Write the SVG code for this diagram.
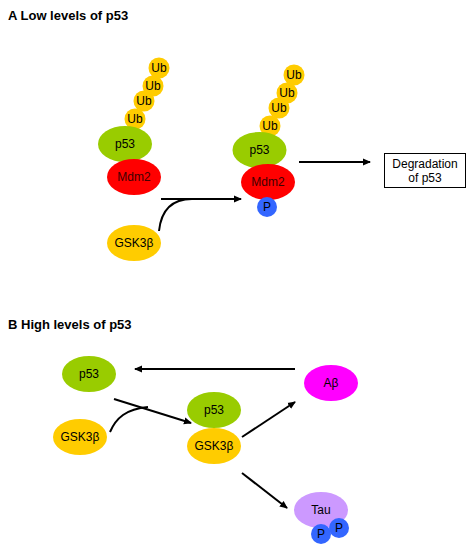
<svg xmlns="http://www.w3.org/2000/svg" width="472" height="550" viewBox="0 0 472 550">
<style>
text{font-family:"Liberation Sans",Arial,sans-serif;font-size:12px;fill:#000;text-anchor:middle}
.title{font-weight:bold;font-size:13px;text-anchor:start}
.green{fill:#99CC00}
.red{fill:#FF0000}
.yel{fill:#FFCC00}
.blue{fill:#3366FF}
.mag{fill:#FF00FF}
.lav{fill:#CC99FF}
.ln{stroke:#000;stroke-width:2;fill:none}
.arr{stroke:#000;stroke-width:2;fill:none;marker-end:url(#ah)}
</style>
<defs>
<marker id="ah" markerWidth="8" markerHeight="8" refX="7" refY="4" orient="auto" markerUnits="userSpaceOnUse">
<path d="M0,0.5 L8,4 L0,7.5 Z" fill="#000"/>
</marker>
</defs>
<rect width="472" height="550" fill="#fff"/>
<text class="title" x="8" y="20">A Low levels of p53</text>
<text class="title" x="8" y="329">B High levels of p53</text>

<g id="ubA1"><circle class="yel" cx="159" cy="68" r="10.5"/><text x="159" y="72">Ub</text></g>
<g id="ubA2"><circle class="yel" cx="153" cy="86" r="10.5"/><text x="153" y="90">Ub</text></g>
<g id="ubA3"><circle class="yel" cx="144" cy="101" r="10.5"/><text x="144" y="105">Ub</text></g>
<g id="ubA4"><circle class="yel" cx="135" cy="119" r="10.5"/><text x="135" y="123">Ub</text></g>
<g id="p53A"><ellipse class="green" cx="125" cy="144" rx="27" ry="18"/><text x="125" y="148">p53</text></g>
<g id="mdm2A"><ellipse class="red" cx="134" cy="177" rx="27" ry="18"/><text x="134" y="181" style="fill:#400000">Mdm2</text></g>
<g id="gskA"><ellipse class="yel" cx="134" cy="243" rx="27" ry="18"/><text x="134" y="247">GSK3β</text></g>

<g id="ubB1"><circle class="yel" cx="294" cy="75" r="10.5"/><text x="294" y="79">Ub</text></g>
<g id="ubB2"><circle class="yel" cx="287" cy="93" r="10.5"/><text x="287" y="97">Ub</text></g>
<g id="ubB3"><circle class="yel" cx="279" cy="108" r="10.5"/><text x="279" y="112">Ub</text></g>
<g id="ubB4"><circle class="yel" cx="270" cy="126" r="10.5"/><text x="270" y="130">Ub</text></g>
<g id="p53B"><ellipse class="green" cx="259.5" cy="150" rx="27" ry="18"/><text x="259.5" y="154">p53</text></g>
<g id="mdm2B"><ellipse class="red" cx="268" cy="182" rx="27" ry="18"/><text x="268" y="186" style="fill:#400000">Mdm2</text></g>
<g id="pB"><circle class="blue" cx="267" cy="207" r="10"/><text x="267" y="211">P</text></g>

<g id="degr"><rect x="384.5" y="153.5" width="81" height="34" fill="#fff" stroke="#000" stroke-width="1"/><text x="425" y="168">Degradation</text><text x="425" y="182">of p53</text></g>

<g id="p53L"><ellipse class="green" cx="89" cy="374" rx="27" ry="18"/><text x="89" y="378">p53</text></g>
<g id="gskL"><ellipse class="yel" cx="80" cy="437" rx="27" ry="18"/><text x="80" y="441">GSK3β</text></g>
<g id="p53M"><ellipse class="green" cx="214" cy="410" rx="27" ry="18"/><text x="214" y="414">p53</text></g>
<g id="gskM"><ellipse class="yel" cx="214" cy="446" rx="27" ry="18"/><text x="214" y="450">GSK3β</text></g>
<g id="abeta"><ellipse class="mag" cx="331" cy="383" rx="27" ry="18"/><text x="331" y="387">Aβ</text></g>
<g id="tau"><ellipse class="lav" cx="321" cy="510" rx="27" ry="18"/><text x="321" y="514">Tau</text></g>
<g id="pT1"><circle class="blue" cx="321" cy="534" r="10"/><text x="321" y="538">P</text></g>
<g id="pT2"><circle class="blue" cx="339" cy="528" r="10"/><text x="339" y="532">P</text></g>

<g id="connectors">
<path class="arr" d="M161,199 L241,199"/>
<path class="ln" d="M159,231 C161,212 170,199 192,199"/>
<path class="arr" d="M299,162 L370,162"/>
<path class="arr" d="M295,369 L135,369"/>
<path class="arr" d="M114,399 L191,423"/>
<path class="ln" d="M110,432 C116,418 126,409 148,407"/>
<path class="arr" d="M242,437 L295,402"/>
<path class="arr" d="M242,473 L287,508"/>
</g>
</svg>
